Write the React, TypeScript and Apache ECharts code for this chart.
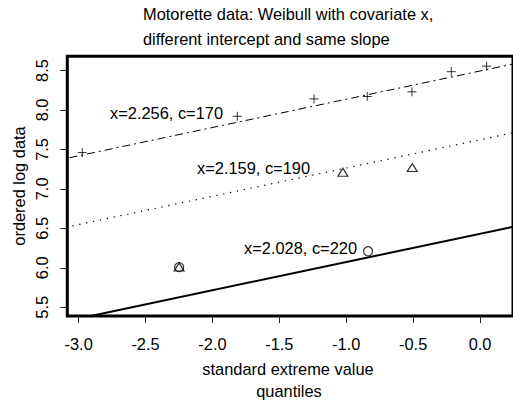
import React, { useEffect, useRef } from "react";
import * as echarts from "echarts";

// Tick values
const xTicks = [-3.0, -2.5, -2.0, -1.5, -1.0, -0.5, 0.0];
const yTicks = [5.5, 6.0, 6.5, 7.0, 7.5, 8.0, 8.5];

// c=170 (plus markers)
const q170 = [-2.973, -1.814, -1.241, -0.843, -0.509, -0.215, 0.049];
const y170 = [7.46, 7.92, 8.14, 8.17, 8.23, 8.485, 8.555];
// c=190 (triangles)
const q190 = [-2.249, -1.025, -0.507];
const y190 = [6.01, 7.21, 7.27];
// c=220 (circles)
const q220 = [-2.249, -0.837];
const y220 = [6.01, 6.21];

// fitted lines (end points)
const lineX = [-3.2, 0.3];
const fit170 = [7.348, 8.601];
const fit190 = [6.477, 7.73];
const fit220 = [5.286, 6.539];

const labels = ["x=2.256, c=170", "x=2.159, c=190", "x=2.028, c=220"];
const titleLines = ["Motorette data: Weibull with covariate x,", "different intercept and same slope"];
const xTitleLines = ["standard extreme value", "quantiles"];
const yTitle = "ordered log data";

const FONT = "'Liberation Sans', Arial, Helvetica, sans-serif";
const FS = 16.4;

const zip = (a: number[], b: number[]) => a.map((v, i) => [v, b[i]]);

export default function App() {
  const ref = useRef<HTMLDivElement>(null);
  useEffect(() => {
    if (!ref.current) return;
    const chart = echarts.init(ref.current, undefined, { renderer: "svg" });
    const txt = (text: string, x: number, y: number, align = "center", rotation = 0) => ({
      type: "text",
      x,
      y,
      rotation,
      style: {
        text,
        fill: "#000",
        fontSize: FS,
        fontFamily: FONT,
        textAlign: align,
        textVerticalAlign: "middle",
      },
    });
    chart.setOption({
      animation: false,
      backgroundColor: "#fff",
      grid: {
        left: 67.3,
        top: 56.2,
        right: -14.3,
        bottom: 88,
        show: true,
        borderColor: "#000",
        borderWidth: 3,
        containLabel: false,
      },
      xAxis: {
        type: "value",
        min: -3.0847,
        max: 0.2462,
        axisLine: { show: false, onZero: false },
        splitLine: { show: false },
        axisTick: {
          show: true,
          length: 7,
          customValues: xTicks,
          lineStyle: { color: "#222", width: 1 },
        },
        axisLabel: {
          customValues: xTicks,
          formatter: (v: number) => v.toFixed(1),
          margin: 20,
          color: "#000",
          fontSize: FS,
          fontFamily: FONT,
        },
      },
      yAxis: {
        type: "value",
        min: 5.39,
        max: 8.681,
        axisLine: { show: false, onZero: false },
        splitLine: { show: false },
        axisTick: {
          show: true,
          length: 7,
          customValues: yTicks,
          lineStyle: { color: "#222", width: 1 },
        },
        axisLabel: {
          customValues: yTicks,
          formatter: (v: number) => v.toFixed(1),
          rotate: 90,
          margin: 17,
          color: "#000",
          fontSize: FS,
          fontFamily: FONT,
        },
      },
      series: [
        {
          type: "line",
          data: zip(lineX, fit170),
          showSymbol: false,
          lineStyle: { color: "#000", width: 1, type: [8, 4, 2, 4] },
        },
        {
          type: "line",
          data: zip(lineX, fit190),
          showSymbol: false,
          lineStyle: { color: "#000", width: 1.2, type: [1.3, 5.7] },
        },
        {
          type: "line",
          data: zip(lineX, fit220),
          showSymbol: false,
          lineStyle: { color: "#000", width: 2 },
        },
        {
          type: "scatter",
          data: zip(q170, y170),
          symbol: "path://M5,0 L5,10 M0,5 L10,5",
          symbolSize: 9,
          itemStyle: { color: "transparent", borderColor: "#000", borderWidth: 1 },
        },
        {
          type: "scatter",
          data: zip(q190, y190),
          symbol: "triangle",
          symbolSize: [10, 8],
          itemStyle: { color: "transparent", borderColor: "#000", borderWidth: 1.2 },
        },
        {
          type: "scatter",
          data: zip(q220, y220),
          symbol: "circle",
          symbolSize: 9,
          itemStyle: { color: "transparent", borderColor: "#000", borderWidth: 1.2 },
        },
      ],
      graphic: [
        txt(titleLines[0], 143, 13.5, "left"),
        txt(titleLines[1], 143, 38.5, "left"),
        txt(xTitleLines[0], 288, 369),
        txt(xTitleLines[1], 289, 391),
        txt(yTitle, 18.8, 186, "center", Math.PI / 2),
        txt(labels[0], 110, 113.3, "left"),
        txt(labels[1], 197, 168.3, "left"),
        txt(labels[2], 244, 248.3, "left"),
      ],
    });
    return () => chart.dispose();
  }, []);
  return (
    <div
      ref={ref}
      style={{ position: "fixed", left: 0, top: 0, width: 513, height: 404, background: "#fff" }}
    />
  );
}
